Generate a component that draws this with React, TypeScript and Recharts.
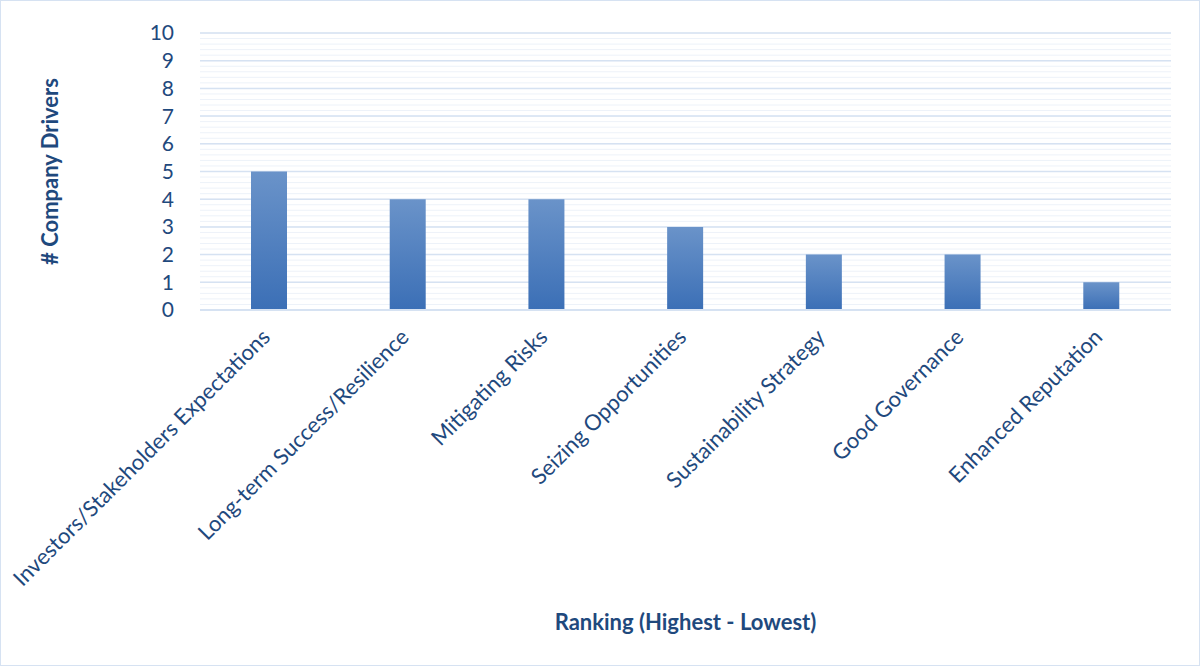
import { Bar, BarChart, CartesianGrid, XAxis, YAxis } from 'recharts'

const drivers = [
  'Investors/Stakeholders Expectations',
  'Long-term Success/Resilience',
  'Mitigating Risks',
  'Seizing Opportunities',
  'Sustainability Strategy',
  'Good Governance',
  'Enhanced Reputation',
]
const companyCounts = [5, 4, 4, 3, 2, 2, 1]
const majorTicks = [0, 1, 2, 3, 4, 5, 6, 7, 8, 9, 10]
const minorTicks = Array.from({ length: 51 }, (_, i) => i * 0.2)

const data = drivers.map((name, i) => ({ name, count: companyCounts[i] }))

const textColor = '#1f497d'
const font = 'Lato, "Open Sans", sans-serif'

const RotatedTick = ({ x, y, payload }: any) => (
  <text
    x={x}
    y={y}
    dy={16}
    dx={-13}
    transform={`rotate(-45, ${x}, ${y})`}
    textAnchor="end"
    fill={textColor}
    fontSize={22}
    fontFamily={font}
  >
    {payload.value}
  </text>
)

export default function App() {
  return (
    <div style={{ position: 'absolute', left: 0, top: 0, width: 1198, height: 664, border: '1px solid #d6e2f2', background: '#fff' }}>
      <BarChart width={1198} height={664} data={data} margin={{ top: 32, right: 28, bottom: 55, left: 101 }} barSize={36}>
        <defs>
          <linearGradient id="barFill" x1="0" y1="0" x2="0" y2="1">
            <stop offset="0%" stopColor="#6a93c9" />
            <stop offset="100%" stopColor="#3b6fb6" />
          </linearGradient>
        </defs>
        <CartesianGrid vertical={false} horizontalValues={minorTicks} stroke="#edf2f9" strokeWidth={1} />
        <CartesianGrid vertical={false} horizontalValues={majorTicks} stroke="#d6e2f2" strokeWidth={1.5} />
        <XAxis
          dataKey="name"
          interval={0}
          height={300}
          tick={<RotatedTick />}
          tickLine={false}
          axisLine={{ stroke: '#d6e2f2', strokeWidth: 2 }}
          label={{ value: 'Ranking (Highest - Lowest)', position: 'insideBottom', offset: -20, fill: textColor, fontSize: 22, fontWeight: 700, fontFamily: font }}
        />
        <YAxis
          domain={[0, 10]}
          ticks={majorTicks}
          interval={0}
          width={98}
          tickLine={false}
          axisLine={false}
          tickMargin={20}
          tick={{ fill: textColor, fontSize: 21, fontFamily: font }}
          label={{ value: '# Company Drivers', angle: -90, position: 'insideLeft', offset: 0, dx: -52, fill: textColor, fontSize: 22, fontWeight: 700, fontFamily: font, style: { textAnchor: 'middle' } }}
        />
        <Bar dataKey="count" fill="url(#barFill)" isAnimationActive={false} />
      </BarChart>
    </div>
  )
}
